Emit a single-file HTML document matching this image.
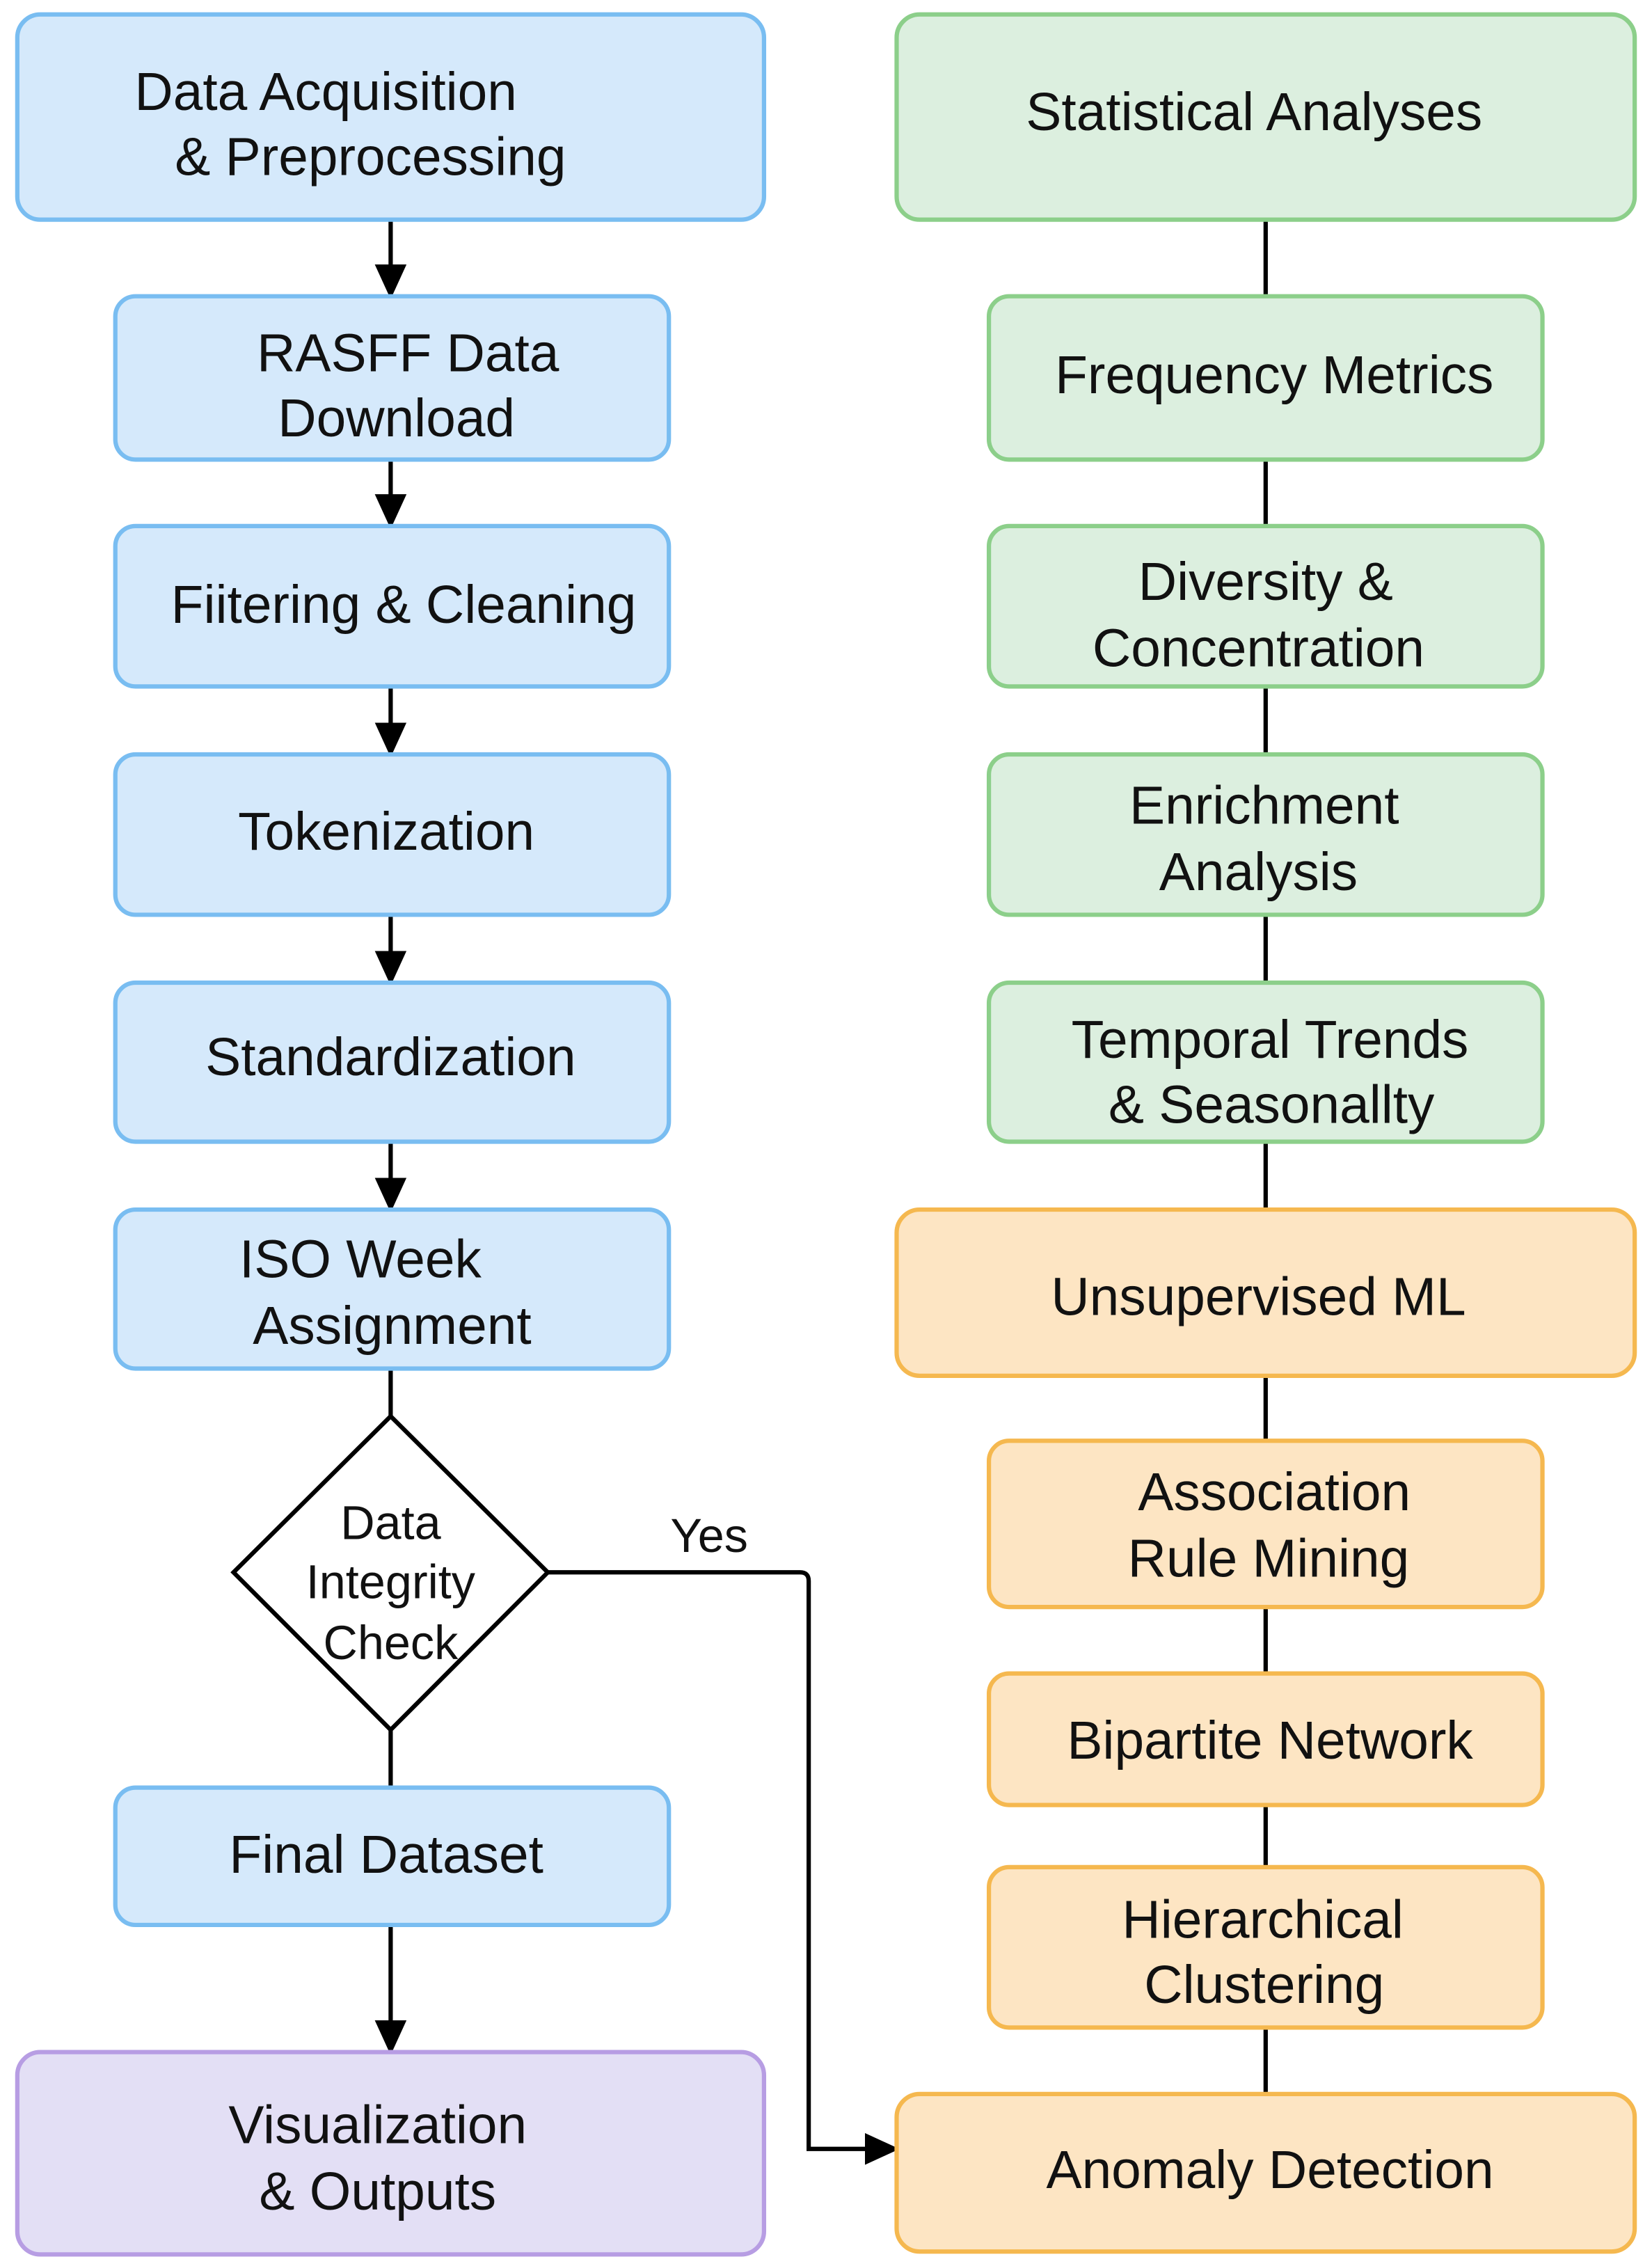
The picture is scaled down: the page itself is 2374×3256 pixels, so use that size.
<!DOCTYPE html>
<html><head><meta charset="utf-8"><style>
html,body{margin:0;padding:0;background:#fff}
svg{display:block}
text{font-family:"Liberation Sans",sans-serif;font-size:37px;fill:#111;text-anchor:middle}
</style></head><body>
<svg width="2374" height="3256" viewBox="0 0 1146 1568" preserveAspectRatio="none" xmlns="http://www.w3.org/2000/svg">
<defs>
<marker id="b" markerWidth="24" markerHeight="22" refX="22" refY="11" orient="auto" markerUnits="userSpaceOnUse"><path d="M0,0 L24,11 L0,22 z" fill="#000"/></marker></defs>
<g stroke="#000" stroke-width="3" fill="none">
<line x1="271" y1="152" x2="271" y2="205" marker-end="url(#b)"/>
<line x1="271" y1="318" x2="271" y2="364" marker-end="url(#b)"/>
<line x1="271" y1="475" x2="271" y2="522" marker-end="url(#b)"/>
<line x1="271" y1="633" x2="271" y2="680" marker-end="url(#b)"/>
<line x1="271" y1="790" x2="271" y2="837" marker-end="url(#b)"/>
<line x1="271" y1="947" x2="271" y2="980"/>
<line x1="271" y1="1197" x2="271" y2="1237"/>
<line x1="271" y1="1332" x2="271" y2="1420" marker-end="url(#b)"/>
<path d="M380,1088 H555 Q561,1088 561,1094 V1487 H622" marker-end="url(#b)"/>
<line x1="878" y1="152" x2="878" y2="1449"/>
</g>
<g stroke-width="3">
<g fill="#d5e9fb" stroke="#79bdf1">
<rect x="12" y="10" width="518" height="142" rx="16"/>
<rect x="80" y="205" width="384" height="113" rx="14"/>
<rect x="80" y="364" width="384" height="111" rx="14"/>
<rect x="80" y="522" width="384" height="111" rx="14"/>
<rect x="80" y="680" width="384" height="110" rx="14"/>
<rect x="80" y="837" width="384" height="110" rx="14"/>
<rect x="80" y="1237" width="384" height="95" rx="14"/>
</g>
<rect x="12" y="1420" width="518" height="140" rx="16" fill="#e3dff5" stroke="#b79de3"/>
<path d="M271,980 L380,1088 L271,1197 L162,1088 z" fill="#fff" stroke="#000"/>
<g fill="#dcefdf" stroke="#8ccf8a">
<rect x="622" y="10" width="512" height="142" rx="16"/>
<rect x="686" y="205" width="384" height="113" rx="14"/>
<rect x="686" y="364" width="384" height="111" rx="14"/>
<rect x="686" y="522" width="384" height="111" rx="14"/>
<rect x="686" y="680" width="384" height="110" rx="14"/>
</g>
<g fill="#fde5c3" stroke="#f5b84f">
<rect x="622" y="837" width="512" height="115" rx="16"/>
<rect x="686" y="997" width="384" height="115" rx="14"/>
<rect x="686" y="1158" width="384" height="91" rx="14"/>
<rect x="686" y="1292" width="384" height="111" rx="14"/>
<rect x="622" y="1449" width="512" height="109" rx="16"/>
</g>
</g>
<text x="226" y="76">Data Acquisition</text>
<text x="257" y="121">&amp; Preprocessing</text>
<text x="283" y="257">RASFF Data</text>
<text x="275" y="302">Download</text>
<text x="280" y="431">Fiitering &amp; Cleaning</text>
<text x="268" y="588">Tokenization</text>
<text x="271" y="744">Standardization</text>
<text x="250" y="884">ISO Week</text>
<text x="272" y="930">Assignment</text>
<text x="271" y="1065" style="font-size:33px">Data</text>
<text x="271" y="1106" style="font-size:33px">Integrity</text>
<text x="271" y="1148" style="font-size:33px">Check</text>
<text x="492" y="1074" style="font-size:33px">Yes</text>
<text x="268" y="1296">Final Dataset</text>
<text x="262" y="1483">Visualization</text>
<text x="262" y="1529">&amp; Outputs</text>
<text x="870" y="90">Statistical Analyses</text>
<text x="884" y="272">Frequency Metrics</text>
<text x="878" y="415">Diversity &amp;</text>
<text x="873" y="461">Concentration</text>
<text x="877" y="570">Enrichment</text>
<text x="873" y="616">Analysis</text>
<text x="881" y="732">Temporal Trends</text>
<text x="882" y="777">&amp; Seasonallty</text>
<text x="873" y="910">Unsupervised ML</text>
<text x="884" y="1045">Association</text>
<text x="880" y="1091">Rule Mining</text>
<text x="881" y="1217">Bipartite Network</text>
<text x="876" y="1341">Hierarchical</text>
<text x="877" y="1386">Clustering</text>
<text x="881" y="1514">Anomaly Detection</text>
</svg>
</body></html>
